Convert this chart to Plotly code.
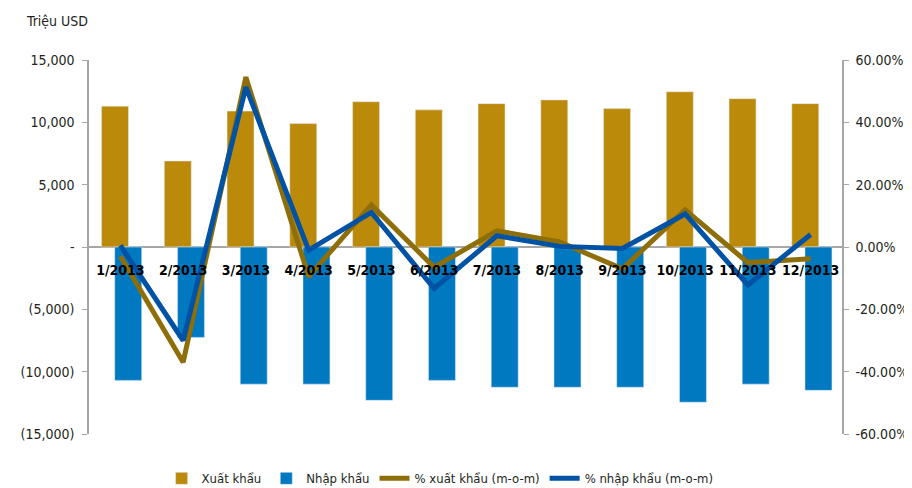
import plotly.graph_objects as go

# dữ liệu (triệu USD và % m-o-m)
thang = ["1/2013", "2/2013", "3/2013", "4/2013", "5/2013", "6/2013",
         "7/2013", "8/2013", "9/2013", "10/2013", "11/2013", "12/2013"]
xuat_khau = [11300, 6900, 10900, 9900, 11650, 11000,
             11500, 11800, 11100, 12450, 11900, 11500]
nhap_khau = [-10700, -7250, -11000, -11000, -12300, -10700,
             -11250, -11250, -11250, -12450, -11000, -11500]
pct_xk = [-3.0, -37.0, 54.5, -9.5, 13.5, -6.5, 5.2, 1.6, -7.0, 11.9, -5.0, -3.8]
pct_nk = [0.5, -30.0, 51.3, -1.0, 11.1, -13.3, 3.6, 0.2, -0.5, 10.6, -12.2, 4.0]

left_vals = [15000, 10000, 5000, 0, -5000, -10000, -15000]
left_text = ["15,000", "10,000", "5,000", "-", "(5,000)", "(10,000)", "(15,000)"]
right_vals = [60, 40, 20, 0, -20, -40, -60]
right_text = ["60.00%", "40.00%", "20.00%", "0.00%", "-20.00%", "-40.00%", "-60.00%"]

font_fam = "DejaVu Sans Condensed, Liberation Sans Narrow, sans-serif"
txt_col = "#231f20"
axis_col = "#a6a6a6"

fig = go.Figure()
fig.add_trace(go.Bar(x=thang, y=xuat_khau, name="Xuất khẩu",
                     marker_color="#bc8a0b", width=0.43, offset=-0.30))
fig.add_trace(go.Bar(x=thang, y=nhap_khau, name="Nhập khẩu",
                     marker_color="#0079c1", width=0.43, offset=-0.09))
fig.add_trace(go.Scatter(x=thang, y=pct_xk, name="% xuất khẩu (m-o-m)", yaxis="y2",
                         mode="lines", line=dict(color="#8d6e08", width=5)))
fig.add_trace(go.Scatter(x=thang, y=pct_nk, name="% nhập khẩu (m-o-m)", yaxis="y2",
                         mode="lines", line=dict(color="#0052a5", width=5)))

# trang html có lề body 8px, nên hình nhỏ hơn 8px mỗi chiều
fig.update_layout(
    width=904, height=480,
    margin=dict(l=81, r=70, t=52, b=54),
    plot_bgcolor="white", paper_bgcolor="white",
    barmode="overlay",
    showlegend=True,
    font=dict(family=font_fam, size=14, color=txt_col),
    xaxis=dict(type="category", anchor="free", position=0.465,
               showline=False, ticks="", showgrid=False, tickangle=0,
               automargin=False,
               tickfont=dict(family=font_fam, size=14, color="#000000", weight="bold")),
    yaxis=dict(range=[-15000, 15000], tickvals=left_vals, ticktext=left_text,
               showgrid=False, showline=True, linecolor=axis_col, linewidth=1.5,
               ticks="outside", ticklen=5, tickcolor=axis_col, automargin=False,
               ticklabelstandoff=5,
               zeroline=True, zerolinecolor=axis_col, zerolinewidth=1.5),
    yaxis2=dict(range=[-60, 60], tickvals=right_vals, ticktext=right_text,
                overlaying="y", side="right", showgrid=False, zeroline=False,
                showline=True, linecolor=axis_col, linewidth=1.5, automargin=False,
                ticks="outside", ticklen=5, tickcolor=axis_col, ticklabelstandoff=4),
    legend=dict(orientation="h", xref="container", yref="container",
                x=0.478, xanchor="center", y=0.02, yanchor="middle",
                font=dict(size=13, color=txt_col), itemwidth=30,
                traceorder="normal"),
    annotations=[dict(text="Triệu USD", xref="paper", yref="paper",
                      x=-0.086, y=1.104, xanchor="left", yanchor="middle",
                      showarrow=False, font=dict(size=14, color=txt_col))],
)

fig.write_html("out.html")
